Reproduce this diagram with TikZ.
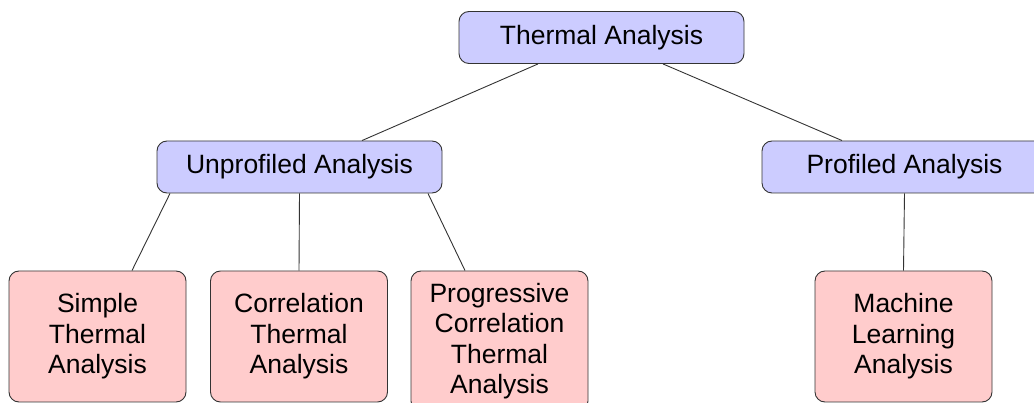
\documentclass[tikz,border=0pt]{standalone}
\usepackage{fontspec}
\setmainfont{Liberation Sans}
\usetikzlibrary{calc}
\definecolor{catfill}{HTML}{CCCCFF}
\definecolor{leaffill}{HTML}{FFCCCC}
\definecolor{edgegray}{HTML}{333333}
\tikzset{
  box/.style={draw=edgegray, line width=0.9pt, rounded corners=10pt, inner sep=0pt,
    align=center, font=\fontsize{26.5}{30.5}\selectfont},
  catbox/.style={box, fill=catfill, minimum width=285pt, minimum height=52pt},
  leafbox/.style={box, fill=leaffill, minimum width=177pt, minimum height=131pt},
  link/.style={draw=edgegray, line width=0.9pt}
}
\begin{document}
\begin{tikzpicture}[x=1pt,y=-1pt]
\useasboundingbox (0,0) rectangle (1034,403);
\clip (0,0) rectangle (1034,403);
% upper levels
\node[catbox] (thermal) at (601.5,37.5) {Thermal Analysis};
\node[catbox] (unprof) at (299.5,167) {Unprofiled Analysis};
\node[catbox] (prof) at (904.5,167) {Profiled Analysis};
% leaves
\node[leafbox] (simple) at (97.5,336.5) {Simple\\Thermal\\Analysis};
\node[leafbox] (corr) at (299,336.5) {Correlation\\Thermal\\Analysis};
\node[leafbox, minimum height=140pt] (prog) at (499.5,341) {Progressive\\Correlation\\Thermal\\Analysis};
\node[leafbox] (ml) at (903.5,336.5) {Machine\\Learning\\Analysis};
% connectors
\draw[link] ([xshift=-63.5pt]thermal.south) -- ([xshift=62.5pt]unprof.north);
\draw[link] ([xshift=61.5pt]thermal.south) -- ([xshift=-62.5pt]prof.north);
\draw[link] ([xshift=-129.5pt]unprof.south) -- ([xshift=34.5pt]simple.north);
\draw[link] (unprof.south) -- (corr.north);
\draw[link] ([xshift=128.5pt]unprof.south) -- ([xshift=-34.5pt]prog.north);
\draw[link] (prof.south) -- (ml.north);
\end{tikzpicture}
\end{document}
